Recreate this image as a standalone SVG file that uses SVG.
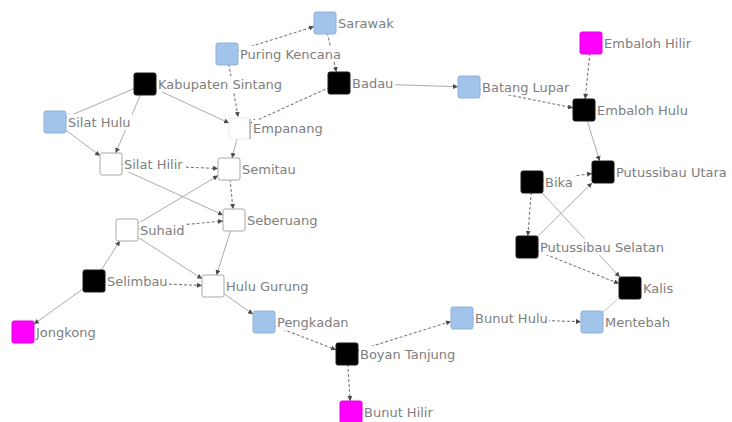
<svg xmlns="http://www.w3.org/2000/svg" width="732" height="422" viewBox="0 0 732 422">
  <defs>
    <marker id="tip" markerUnits="userSpaceOnUse" markerWidth="5" markerHeight="5" refX="5" refY="2.5" orient="auto">
      <path d="M0,0 L5,2.5 L0,5 z" fill="#4a4a4a"/>
    </marker>
    <style>
      .e { fill: none; stroke: #ababab; stroke-width: 1; marker-end: url(#tip); }
      .d { stroke: #7c7c7c; stroke-width: 1.1; stroke-dasharray: 3 2; }
      .n rect.box { stroke-width: 1; }
      .blk { fill: #000; stroke: #1a1a1a; }
      .blu { fill: #a2c3ea; stroke: #8fb2db; }
      .mag { fill: #ff00ff; stroke: #e400e4; }
      .wht { fill: #fff; stroke: #a8a8a8; }
      .bg { fill: #fff; stroke: none; }
      text { font-family: "DejaVu Sans", Verdana, sans-serif; font-size: 13px; fill: #7e7e7e; }
    </style>
  </defs>
  <rect width="732" height="422" fill="#fff"/>

  <!-- connectors: drawn centre-to-boundary so the arrow tips sit on the node edge -->
  <g id="connectors">
    <line class="e d" x1="227" y1="54" x2="314" y2="26.5"/>
    <line class="e d" x1="325" y1="23" x2="336.4" y2="72"/>
    <line class="e d" x1="227" y1="54" x2="238.1" y2="117"/>
    <line class="e" x1="145" y1="84" x2="229" y2="123"/>
    <line class="e d" x1="339" y1="83" x2="251" y2="123"/>
    <line class="e" x1="145" y1="84" x2="66" y2="117.4"/>
    <line class="e" x1="145" y1="84" x2="115.7" y2="153"/>
    <line class="e" x1="55" y1="122" x2="100" y2="155.8"/>
    <line class="e d" x1="111" y1="164" x2="218" y2="168.5"/>
    <line class="e" x1="111" y1="164" x2="223" y2="215"/>
    <line class="e" x1="240" y1="128" x2="232" y2="158"/>
    <line class="e d" x1="229" y1="169" x2="233" y2="209"/>
    <line class="e" x1="127" y1="230" x2="218" y2="175.6"/>
    <line class="e d" x1="127" y1="230" x2="223" y2="221"/>
    <line class="e" x1="234" y1="220" x2="216.5" y2="275"/>
    <line class="e" x1="127" y1="230" x2="202" y2="278.8"/>
    <line class="e" x1="94" y1="281" x2="119.9" y2="241"/>
    <line class="e d" x1="94" y1="281" x2="202" y2="285.5"/>
    <line class="e" x1="94" y1="281" x2="34" y2="324"/>
    <line class="e" x1="213" y1="286" x2="253" y2="314.2"/>
    <line class="e d" x1="264" y1="322" x2="336" y2="349.8"/>
    <line class="e d" x1="347" y1="354" x2="451" y2="321.4"/>
    <line class="e d" x1="347" y1="354" x2="350.2" y2="401"/>
    <line class="e d" x1="462" y1="318" x2="581" y2="321.7"/>
    <line class="e" x1="630" y1="288" x2="592" y2="322" style="marker-end:none;stroke:#bccab8"/>
    <line class="e d" x1="527" y1="247" x2="619" y2="283.6"/>
    <line class="e" x1="532" y1="182" x2="619.8" y2="277"/>
    <line class="e" x1="527" y1="247" x2="592" y2="182.9"/>
    <line class="e d" x1="532" y1="182" x2="527.8" y2="236"/>
    <line class="e d" x1="532" y1="182" x2="592" y2="173.5"/>
    <line class="e" x1="584" y1="110" x2="599.6" y2="161"/>
    <line class="e d" x1="591" y1="43" x2="585.1" y2="99"/>
    <line class="e d" x1="469" y1="87" x2="573" y2="107.8"/>
    <line class="e" x1="339" y1="83" x2="458" y2="86.7"/>
  </g>

  <!-- nodes: 22px squares with a label to the right on a white backing -->
  <g id="sarawak" class="n"><rect class="box blu" x="314" y="12" width="22" height="22" rx="2"/><rect class="bg" x="337" y="15" width="58" height="16"/><text x="338" y="27.5">Sarawak</text></g>
  <g id="puring-kencana" class="n"><rect class="box blu" x="216" y="43" width="22" height="22" rx="2"/><rect class="bg" x="239" y="46" width="104" height="16"/><text x="240" y="58.5">Puring Kencana</text></g>
  <g id="kabupaten-sintang" class="n"><rect class="box blk" x="134" y="73" width="22" height="22" rx="2"/><rect class="bg" x="157" y="76" width="126" height="16"/><text x="158" y="88.5">Kabupaten Sintang</text></g>
  <g id="silat-hulu" class="n"><rect class="box blu" x="44" y="111" width="22" height="22" rx="2"/><rect class="bg" x="67" y="114" width="65" height="16"/><text x="68" y="126.5">Silat Hulu</text></g>
  <g id="silat-hilir" class="n"><rect class="box wht" x="100" y="153" width="22" height="22" rx="2"/><rect class="bg" x="123" y="156" width="61" height="16"/><text x="124" y="168.5">Silat Hilir</text></g>
  <g id="empanang" class="n"><rect class="box" x="229" y="118" width="21" height="21" fill="#fff" stroke="#ececec"/><line x1="250" y1="119" x2="250" y2="139" stroke="#8a8a8a"/><rect class="bg" x="252" y="120" width="71" height="16"/><text x="253" y="132.5">Empanang</text></g>
  <g id="badau" class="n"><rect class="box blk" x="328" y="72" width="22" height="22" rx="2"/><rect class="bg" x="351" y="75" width="44" height="16"/><text x="352" y="87.5">Badau</text></g>
  <g id="batang-lupar" class="n"><rect class="box blu" x="458" y="76" width="22" height="22" rx="2"/><rect class="bg" x="481" y="79" width="90" height="16"/><text x="482" y="91.5">Batang Lupar</text></g>
  <g id="embaloh-hilir" class="n"><rect class="box mag" x="580" y="32" width="22" height="22" rx="2"/><rect class="bg" x="603" y="35" width="89" height="16"/><text x="604" y="47.5">Embaloh Hilir</text></g>
  <g id="embaloh-hulu" class="n"><rect class="box blk" x="573" y="99" width="22" height="22" rx="2"/><rect class="bg" x="596" y="102" width="93" height="16"/><text x="597" y="114.5">Embaloh Hulu</text></g>
  <g id="putussibau-utara" class="n"><rect class="box blk" x="592" y="161" width="22" height="22" rx="2"/><rect class="bg" x="615" y="164" width="114" height="16"/><text x="616" y="176.5">Putussibau Utara</text></g>
  <g id="bika" class="n"><rect class="box blk" x="521" y="171" width="22" height="22" rx="2"/><rect class="bg" x="544" y="174" width="30" height="16"/><text x="545" y="186.5">Bika</text></g>
  <g id="putussibau-selatan" class="n"><rect class="box blk" x="516" y="236" width="22" height="22" rx="2"/><rect class="bg" x="539" y="239" width="127" height="16"/><text x="540" y="251.5">Putussibau Selatan</text></g>
  <g id="kalis" class="n"><rect class="box blk" x="619" y="277" width="22" height="22" rx="2"/><rect class="bg" x="642" y="280" width="33" height="16"/><text x="643" y="292.5">Kalis</text></g>
  <g id="mentebah" class="n"><rect class="box blu" x="581" y="311" width="22" height="22" rx="2"/><rect class="bg" x="604" y="314" width="67" height="16"/><text x="605" y="326.5">Mentebah</text></g>
  <g id="bunut-hulu" class="n"><rect class="box blu" x="451" y="307" width="22" height="22" rx="2"/><rect class="bg" x="474" y="310" width="75" height="16"/><text x="475" y="322.5">Bunut Hulu</text></g>
  <g id="boyan-tanjung" class="n"><rect class="box blk" x="336" y="343" width="22" height="22" rx="2"/><rect class="bg" x="359" y="346" width="99" height="16"/><text x="360" y="358.5">Boyan Tanjung</text></g>
  <g id="bunut-hilir" class="n"><rect class="box mag" x="340" y="401" width="22" height="22" rx="2"/><rect class="bg" x="363" y="404" width="71" height="16"/><text x="364" y="416.5">Bunut Hilir</text></g>
  <g id="pengkadan" class="n"><rect class="box blu" x="253" y="311" width="22" height="22" rx="2"/><rect class="bg" x="276" y="314" width="74" height="16"/><text x="277" y="326.5">Pengkadan</text></g>
  <g id="hulu-gurung" class="n"><rect class="box wht" x="202" y="275" width="22" height="22" rx="2"/><rect class="bg" x="225" y="278" width="85" height="16"/><text x="226" y="290.5">Hulu Gurung</text></g>
  <g id="semitau" class="n"><rect class="box wht" x="218" y="158" width="22" height="22" rx="2"/><rect class="bg" x="241" y="161" width="56" height="16"/><text x="242" y="173.5">Semitau</text></g>
  <g id="seberuang" class="n"><rect class="box wht" x="223" y="209" width="22" height="22" rx="2"/><rect class="bg" x="246" y="212" width="73" height="16"/><text x="247" y="224.5">Seberuang</text></g>
  <g id="suhaid" class="n"><rect class="box wht" x="116" y="219" width="22" height="22" rx="2"/><rect class="bg" x="139" y="222" width="47" height="16"/><text x="140" y="234.5">Suhaid</text></g>
  <g id="selimbau" class="n"><rect class="box blk" x="83" y="270" width="22" height="22" rx="2"/><rect class="bg" x="106" y="273" width="63" height="16"/><text x="107" y="285.5">Selimbau</text></g>
  <g id="jongkong" class="n"><rect class="box mag" x="12" y="321" width="22" height="22" rx="2"/><rect class="bg" x="35" y="324" width="62" height="16"/><text x="36" y="336.5">Jongkong</text></g>
</svg>
